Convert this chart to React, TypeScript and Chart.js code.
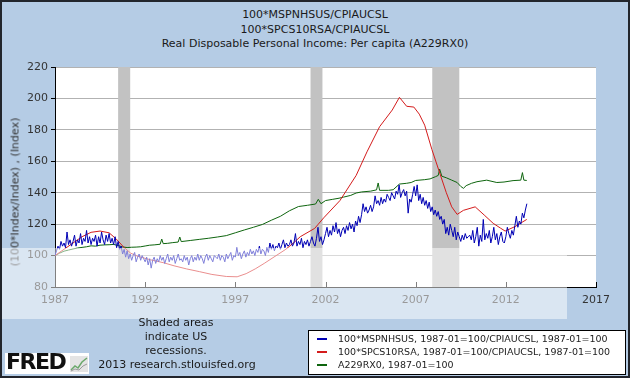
import React, { useEffect, useRef } from "react";
import { Chart, registerables } from "chart.js";

Chart.register(...registerables);

const FIRST_YEAR = 1987;
const X_MIN = 1987;
const X_MAX = 2017;
const Y_MIN = 80;
const Y_MAX = 220;
const Y_STEP = 20;
const xTickYears = [1987, 1992, 1997, 2002, 2007, 2012, 2017];

const titleLines = [
  "100*MSPNHSUS/CPIAUCSL",
  "100*SPCS10RSA/CPIAUCSL",
  "Real Disposable Personal Income: Per capita (A229RX0)",
];
const yAxisTitle = "(100*Index/Index) , (Index)";
const legendLabels = [
  "100*MSPNHSUS, 1987-01=100/CPIAUCSL, 1987-01=100",
  "100*SPCS10RSA, 1987-01=100/CPIAUCSL, 1987-01=100",
  "A229RX0, 1987-01=100",
];
const seriesColors = ["#0000b4", "#d41c1c", "#0e650e"];
const noteLines = ["Shaded areas", "indicate US", "recessions.", "2013 research.stlouisfed.org"];

// Monthly, starting 1987-01
const blueMonthly = [
  100, 103, 106, 104, 109, 106, 108, 105, 115, 107, 110, 106,
  109, 113, 106, 110, 108, 114, 107, 111, 109, 116, 108, 112,
  107, 111, 109, 113, 106, 112, 108, 115, 110, 107, 113, 109,
  114, 108, 111, 107, 112, 105, 109, 104, 106, 101, 104, 99,
  103, 98, 101, 97, 100, 102, 96, 99, 101, 97, 100, 98,
  96, 99, 94, 98, 92, 97, 99, 95, 98, 96, 100, 97,
  99, 95, 98, 101, 96, 99, 97, 100, 95, 98, 101, 97,
  98, 96, 100, 97, 99, 94, 98, 100, 96, 99, 97, 101,
  97, 100, 98, 95, 99, 101, 97, 100, 98, 96, 100, 99,
  98, 101, 97, 100, 99, 96, 101, 98, 100, 102, 97, 100,
  99, 105, 100, 102, 98, 101, 103, 99, 102, 100, 104, 101,
  103, 100, 104, 102, 106, 101, 104, 103, 100, 105, 102, 108,
  104, 107, 103, 106, 105, 108, 104, 107, 110, 105, 108, 106,
  107, 110, 106, 108, 114, 106, 109, 107, 111, 105, 109, 107,
  110, 106, 109, 112, 108, 106, 111, 118, 109, 112, 107, 110,
  114, 118, 112, 116, 113, 119, 115, 121, 114, 117, 112, 116,
  118, 114, 119, 116, 121, 117, 120, 115, 122, 119, 125, 121,
  126, 133, 128, 131, 127, 129, 132, 128, 131, 138, 133, 135,
  132, 137, 133, 136, 134, 139, 137, 135, 140, 138, 136, 141,
  139, 145, 137, 140, 142, 138, 141, 127, 136, 134, 139, 144,
  138, 145, 135, 139, 133, 137, 132, 135, 130, 134, 128, 131,
  126, 129, 125, 128, 123, 125, 120, 123, 114, 118, 113, 120,
  116, 112, 118, 110, 115, 112, 109, 113, 110, 114, 111, 112,
  113, 110, 116, 108, 112, 118, 106, 113, 109, 123, 110, 114,
  111, 116, 108, 112, 118, 110, 114, 107, 112, 115, 109, 108,
  112, 118, 114, 111, 116, 113, 119, 125, 118, 122, 120, 127,
  124, 129, 133,
];

const redDates = [
  1987.0, 1987.5, 1988.0, 1988.5, 1989.0, 1989.5, 1990.0, 1990.4, 1990.8, 1991.2,
  1991.6, 1992.3, 1993.0, 1993.6, 1994.3, 1995.0, 1995.7, 1996.5, 1997.1, 1997.6,
  1998.1, 1998.6, 1999.2, 1999.8, 2000.3, 2000.6, 2001.4, 2001.9, 2002.8, 2003.7,
  2004.3, 2005.0, 2005.7, 2006.1, 2006.5, 2006.9, 2007.2, 2007.5, 2007.9, 2008.35,
  2008.7, 2009.0, 2009.3, 2009.65, 2010.3, 2010.8, 2011.3, 2011.7, 2011.96, 2012.5,
  2012.8, 2013.16,
];
const redValues = [
  100, 104, 108, 112, 114.8, 115.6, 114.5, 110.5, 105.5, 101.5,
  99.5, 97.3, 95.5, 93.5, 91.5, 89.8, 88, 86.7, 86.5, 88.5,
  91.5, 95, 99.5, 104, 108.8, 112, 117.3, 124, 135, 151,
  166, 182, 192.6, 200.7, 195, 194.5, 190, 183, 167.5, 152,
  140, 131, 126.2, 128.8, 131, 125.8, 120.5, 117.5, 115.6, 118.4,
  120.5, 123,
];

const greenDates = [
  1987.0, 1987.25, 1987.5, 1987.75, 1988.0, 1988.25, 1988.5, 1988.75, 1989.0, 1989.25,
  1989.5, 1989.75, 1990.0, 1990.25, 1990.5, 1990.75, 1991.0, 1991.25, 1991.5, 1991.75,
  1992.0, 1992.25, 1992.5, 1992.83, 1992.92, 1993.0, 1993.25, 1993.5, 1993.83, 1993.92,
  1994.0, 1994.5, 1995.0, 1995.5, 1996.0, 1996.5, 1997.0, 1997.5, 1998.0, 1998.5,
  1999.0, 1999.5, 2000.0, 2000.5, 2000.75, 2001.0, 2001.45, 2001.6, 2001.75, 2002.0,
  2002.4, 2002.75, 2003.0, 2003.4, 2003.7, 2004.0, 2004.5, 2004.83, 2004.92, 2005.0,
  2005.5, 2005.75, 2006.1, 2006.5, 2006.75, 2007.0, 2007.5, 2007.8, 2008.1, 2008.25,
  2008.33, 2008.45, 2008.7, 2009.0, 2009.3, 2009.5, 2009.65, 2009.8, 2010.1, 2010.4,
  2010.94, 2011.5, 2011.9, 2012.4, 2012.83, 2012.92, 2013.0, 2013.16,
];
const greenValues = [
  100, 101.5, 102.8, 103.5, 104.2, 104.8, 105.2, 105.6, 106.2, 106,
  106.6, 106.8, 106.9, 107.1, 106.4, 105.5, 105.1, 105.3, 105.4, 105.6,
  106.1, 106.6, 106.8, 107.2, 110.5, 107.6, 107.8, 108.2, 108.6, 111.8,
  108.9, 109.6, 110.3, 111, 111.8, 112.7, 114.5, 116.3, 118, 119.8,
  122.5, 125, 128.5, 131.2, 131.6, 132, 132.8, 135.8, 133, 135,
  135.8, 136.5, 137.2, 138.3, 139.8, 140.5, 141, 141.8, 146.2, 141.5,
  141.5, 141.9, 145.5, 146, 146.5, 147.8, 148.3, 148.8, 150.2, 151,
  155, 150.5, 149.5, 148, 146.5, 144, 142.8, 144.5, 146, 147,
  148, 146.5, 146.8, 147.7, 148, 152.8, 148, 147.8,
];

const recessionStarts = [1990.5, 2001.17, 2007.92];
const recessionEnds = [1991.17, 2001.83, 2009.42];

const FONT = "'DejaVu Sans', Verdana, sans-serif";

const recessionPlugin = {
  id: "recessionBands",
  beforeDraw(chart: any) {
    const { ctx, chartArea } = chart;
    ctx.save();
    ctx.fillStyle = "#ffffff";
    ctx.fillRect(chartArea.left, chartArea.top, chartArea.right - chartArea.left, chartArea.bottom - chartArea.top);
    ctx.restore();
  },
  beforeDatasetsDraw(chart: any) {
    const { ctx, chartArea, scales } = chart;
    ctx.save();
    ctx.fillStyle = "#c2c2c2";
    recessionStarts.forEach((s, i) => {
      const x1 = scales.x.getPixelForValue(s);
      const x2 = scales.x.getPixelForValue(recessionEnds[i]);
      ctx.fillRect(x1, chartArea.top, x2 - x1, chartArea.bottom - chartArea.top);
    });
    ctx.restore();
  },
  afterDraw(chart: any) {
    const { ctx, chartArea, scales } = chart;
    ctx.save();
    ctx.strokeStyle = "#000";
    ctx.lineWidth = 1;
    xTickYears.forEach((yr) => {
      const x = Math.round(scales.x.getPixelForValue(yr)) + 0.5;
      ctx.beginPath();
      ctx.moveTo(x, chartArea.bottom);
      ctx.lineTo(x, chartArea.bottom - 5);
      ctx.stroke();
    });
    ctx.restore();
  },
};

export default function App() {
  const canvasRef = useRef<HTMLCanvasElement | null>(null);

  useEffect(() => {
    const canvas = canvasRef.current;
    if (!canvas) return;
    const bluePoints = blueMonthly.map((v, i) => ({ x: FIRST_YEAR + i / 12, y: v }));
    const redPoints = redDates.map((d, i) => ({ x: d, y: redValues[i] }));
    const greenPoints = greenDates.map((d, i) => ({ x: d, y: greenValues[i] }));
    const lineStyle = { borderWidth: 1, pointRadius: 0, tension: 0, fill: false };
    const chart = new Chart(canvas, {
      type: "line",
      data: {
        datasets: [
          { label: legendLabels[0], data: bluePoints, borderColor: seriesColors[0], ...lineStyle },
          { label: legendLabels[1], data: redPoints, borderColor: seriesColors[1], ...lineStyle },
          { label: legendLabels[2], data: greenPoints, borderColor: seriesColors[2], ...lineStyle },
        ],
      },
      options: {
        animation: false,
        responsive: false,
        maintainAspectRatio: false,
        layout: { padding: { top: 67, right: 34, bottom: 69, left: 0 } },
        plugins: { legend: { display: false }, tooltip: { enabled: false }, title: { display: false } },
        scales: {
          x: {
            type: "linear",
            min: X_MIN,
            max: X_MAX,
            afterBuildTicks: (s: any) => {
              s.ticks = xTickYears.map((v) => ({ value: v }));
            },
            afterFit: (s: any) => {
              s.height = 22;
            },
            grid: { display: true, drawOnChartArea: false, drawTicks: false },
            border: { color: "#000", width: 1 },
            ticks: {
              autoSkip: false,
              maxRotation: 0,
              padding: 7,
              color: "#333",
              font: { family: FONT, size: 11 },
              callback: (v: any) => String(v),
            },
          },
          y: {
            min: Y_MIN,
            max: Y_MAX,
            afterFit: (s: any) => {
              s.width = 55;
            },
            grid: { color: "#b2b2b2", tickColor: "#000", tickLength: 4 },
            border: { color: "#000", width: 1 },
            ticks: {
              stepSize: Y_STEP,
              padding: 3,
              color: "#333",
              font: { family: FONT, size: 11 },
            },
          },
        },
      },
      plugins: [recessionPlugin],
    });
    return () => chart.destroy();
  }, []);

  return (
    <div style={{ position: "fixed", left: 0, top: 0, width: 630, height: 378, background: "#b5cce5", fontFamily: FONT, overflow: "hidden" }}>
      {titleLines.map((t, i) => (
        <div key={i} style={{ position: "absolute", left: 0, width: 630, top: 8 + i * 14.5, textAlign: "center", fontSize: 11, lineHeight: "14px", color: "#1a1a1a", whiteSpace: "nowrap" }}>
          {t}
        </div>
      ))}
      <canvas ref={canvasRef} width={630} height={378} style={{ position: "absolute", left: 0, top: 0, display: "block" }} />
      <div style={{ position: "absolute", left: 15, top: 192, transform: "translate(-50%, -50%) rotate(-90deg)", fontSize: 11, color: "#333", whiteSpace: "nowrap" }}>
        {yAxisTitle}
      </div>
      <div style={{ position: "absolute", left: 2, top: 248, width: 565, height: 71, background: "rgba(255,255,255,0.5)" }} />
      {noteLines.map((t, i) => (
        <div key={i} style={{ position: "absolute", left: i === 3 ? 97 : 96, width: 160, top: 316 + i * 14, textAlign: "center", fontSize: 11, lineHeight: "14px", color: "#1a1a1a", whiteSpace: "nowrap" }}>
          {t}
        </div>
      ))}
      <div style={{ position: "absolute", left: 5, top: 353, width: 84, height: 21, background: "#fff" }}>
        <div style={{ position: "absolute", left: 1, top: -3, fontFamily: "'DejaVu Sans', sans-serif", fontWeight: 900, fontSize: 21, letterSpacing: -1.5, color: "#111", transform: "scaleX(1.05)", transformOrigin: "left" }}>FRED</div>
        <svg width={18} height={16} style={{ position: "absolute", left: 65, top: 3 }}>
          <rect x={0} y={0} width={18} height={16} fill="#e4e4e4" />
          <polyline points="1,14 5,10 8,12 12,6 17,2" fill="none" stroke="#6aa86a" strokeWidth={1.5} />
          <polyline points="1,15 5,13 9,14 13,10 17,8" fill="none" stroke="#9a9a9a" strokeWidth={1} />
        </svg>
      </div>
      <div style={{ position: "absolute", left: 308, top: 330, width: 318, height: 45, boxSizing: "border-box", background: "#fff", border: "1px solid #000" }}>
        {legendLabels.map((t, i) => (
          <div key={i} style={{ position: "absolute", left: 8, top: 1 + i * 13, height: 13, display: "flex", alignItems: "center" }}>
            <div style={{ width: 10, height: 2, background: seriesColors[i], marginRight: 11 }} />
            <span style={{ fontSize: 9.5, color: "#222", whiteSpace: "nowrap" }}>{t}</span>
          </div>
        ))}
      </div>
      <div style={{ position: "absolute", left: 0, top: 0, width: 630, height: 378, boxSizing: "border-box", border: "2px solid #22252c", pointerEvents: "none" }} />
    </div>
  );
}
